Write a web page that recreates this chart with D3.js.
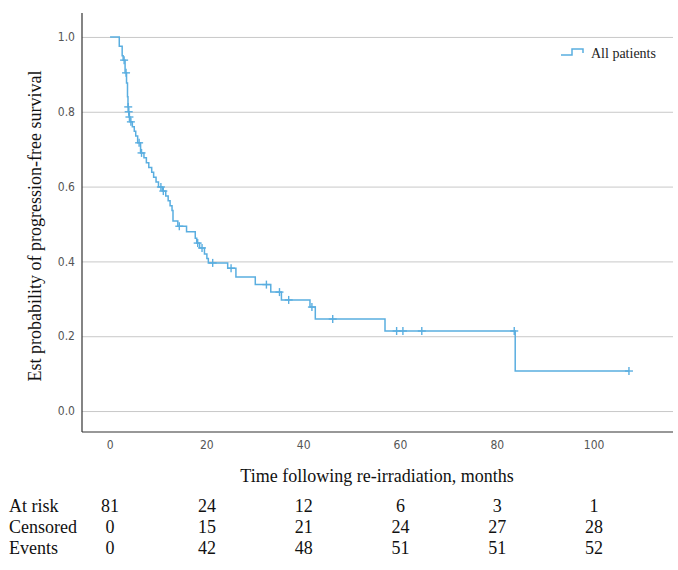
<!DOCTYPE html>
<html>
<head>
<meta charset="utf-8">
<title>Progression-free survival after re-irradiation</title>
<style>
  body { margin: 0; background: #fff; }
  .tick-lbl { font-family: 'Liberation Sans Narrow', 'Arial Narrow', 'DejaVu Sans Condensed', sans-serif; font-size: 12px; fill: #555; }
  .ttl, .tbl { font-family: 'Liberation Serif', 'Times New Roman', serif; font-size: 18px; fill: #111; }
  .leg { font-family: 'Liberation Serif', 'Times New Roman', serif; font-size: 14px; fill: #222; }
  .grid line { stroke: #c8c8c8; stroke-width: 1; }
  .grid path { display: none; }
</style>
<script src="https://cdnjs.cloudflare.com/ajax/libs/d3/7.8.5/d3.min.js"></script>
</head>
<body>
<div id="chart"></div>
<script>
// Kaplan-Meier steps (months, survival after the step)
var eventTimes = [1.9, 2.5, 2.7, 3.1, 3.4, 3.6, 3.7, 3.8, 3.95, 4.1, 4.6, 5.0, 5.3, 5.7, 6.3,
                  7.0, 7.5, 8.0, 8.6, 9.0, 9.5, 10.0, 10.8, 11.5, 12.0, 12.4, 12.8, 13.0, 14.0,
                  15.8, 17.6, 17.9, 18.5, 19.5, 20.0, 20.3, 24.3, 26.0, 30.0, 33.2, 35.4, 41.3,
                  42.4, 56.8, 83.7];
var survival = [0.975, 0.95, 0.938, 0.904, 0.877, 0.84, 0.813, 0.80, 0.786, 0.773, 0.76, 0.748,
                0.735, 0.717, 0.69, 0.677, 0.664, 0.651, 0.638, 0.625, 0.612, 0.599, 0.588, 0.575,
                0.562, 0.549, 0.536, 0.508, 0.494, 0.479, 0.462, 0.449, 0.436, 0.42, 0.408, 0.396,
                0.382, 0.358, 0.338, 0.318, 0.297, 0.278, 0.246, 0.214, 0.107];
// censored observations (months)
var censorTimes = [2.9, 3.3, 3.75, 3.85, 4.0, 4.3, 6.0, 6.5, 10.5, 11.0, 14.3, 18.1, 19.0, 21.2,
                   25.0, 32.3, 35.0, 36.9, 41.7, 46.0, 59.2, 60.5, 64.4, 83.5, 107.2];

var xTicks = [0, 20, 40, 60, 80, 100];
var yTicks = [0, 0.2, 0.4, 0.6, 0.8, 1.0];

// numbers at risk table
var rowLabels = ["At risk", "Censored", "Events"];
var atRisk = [81, 24, 12, 6, 3, 1];
var censored = [0, 15, 21, 24, 27, 28];
var events = [0, 42, 48, 51, 51, 52];

var lineColor = "#5aaee0";

var svg = d3.select("#chart").append("svg")
  .attr("width", 678).attr("height", 570);

var x = d3.scaleLinear().domain([-5.8, 116.3]).range([82, 673]);
var y = d3.scaleLinear().domain([-0.056, 1.064]).range([432, 13]);

// gridlines
svg.append("g")
  .attr("class", "grid")
  .attr("transform", "translate(82,0)")
  .call(d3.axisLeft(y).tickValues(yTicks).tickSize(-(673 - 82)).tickFormat(""));

// y tick labels
svg.append("g").selectAll("text")
  .data(yTicks).enter().append("text")
  .attr("class", "tick-lbl")
  .attr("x", 75)
  .attr("y", function(d) { return y(d); })
  .attr("dy", "0.35em")
  .attr("text-anchor", "end")
  .text(d3.format(".1f"));

// x tick labels
svg.append("g").selectAll("text")
  .data(xTicks).enter().append("text")
  .attr("class", "tick-lbl")
  .attr("x", function(d) { return x(d); })
  .attr("y", 449)
  .attr("text-anchor", "middle")
  .text(function(d) { return d; });

// axis lines
svg.append("line")
  .attr("x1", 82).attr("x2", 82).attr("y1", 13).attr("y2", 432)
  .attr("stroke", "#333").attr("stroke-width", 1.2);
svg.append("line")
  .attr("x1", 82).attr("x2", 673).attr("y1", 432).attr("y2", 432)
  .attr("stroke", "#333").attr("stroke-width", 1.2);

// survival curve
var pts = [[0, 1]];
eventTimes.forEach(function(t, i) { pts.push([t, survival[i]]); });
pts.push([censorTimes[censorTimes.length - 1], survival[survival.length - 1]]);

var line = d3.line()
  .x(function(d) { return x(d[0]); })
  .y(function(d) { return y(d[1]); })
  .curve(d3.curveStepAfter);

svg.append("path")
  .datum(pts)
  .attr("d", line)
  .attr("fill", "none")
  .attr("stroke", lineColor)
  .attr("stroke-width", 1.5);

function survAt(t) {
  var i = d3.bisectRight(eventTimes, t);
  return i === 0 ? 1 : survival[i - 1];
}

// censor marks
var marks = svg.append("g").attr("stroke", lineColor).attr("stroke-width", 1.4);
censorTimes.forEach(function(t) {
  var cx = x(t), cy = y(survAt(t));
  marks.append("line").attr("x1", cx - 4).attr("x2", cx + 4).attr("y1", cy).attr("y2", cy);
  marks.append("line").attr("x1", cx).attr("x2", cx).attr("y1", cy - 4).attr("y2", cy + 4);
});

// legend
svg.append("path")
  .attr("d", "M561,55H572V49H583V53")
  .attr("fill", "none")
  .attr("stroke", lineColor)
  .attr("stroke-width", 1.5);
svg.append("text")
  .attr("class", "leg")
  .attr("x", 591).attr("y", 58)
  .text("All patients");

// axis titles
svg.append("text")
  .attr("class", "ttl")
  .attr("text-anchor", "middle")
  .attr("x", 377).attr("y", 482)
  .text("Time following re-irradiation, months");

svg.append("text")
  .attr("class", "ttl")
  .attr("text-anchor", "middle")
  .attr("transform", "translate(41,226) rotate(-90)")
  .text("Est probability of progression-free survival");

// table
var rowY = d3.scalePoint().domain(rowLabels).range([512, 554]);
var rows = [atRisk, censored, events];

svg.append("g").selectAll("text")
  .data(rowLabels).enter().append("text")
  .attr("class", "tbl")
  .attr("x", 9)
  .attr("y", function(d) { return rowY(d); })
  .text(function(d) { return d; });

rows.forEach(function(vals, r) {
  svg.append("g").selectAll("text")
    .data(vals).enter().append("text")
    .attr("class", "tbl")
    .attr("text-anchor", "middle")
    .attr("x", function(d, i) { return x(xTicks[i]); })
    .attr("y", rowY(rowLabels[r]))
    .text(function(d) { return d; });
});
</script>
</body>
</html>
